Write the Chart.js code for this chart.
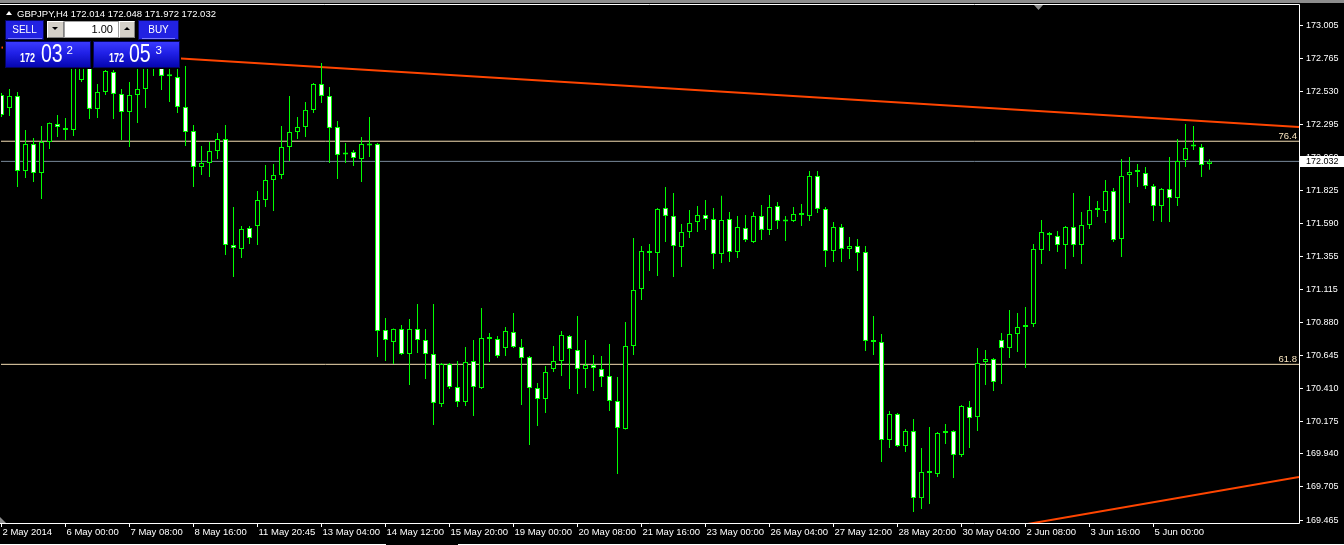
<!DOCTYPE html>
<html>
<head>
<meta charset="utf-8">
<script src="https://cdn.jsdelivr.net/npm/chart.js@4.4.1/dist/chart.umd.min.js"></script>
<style>
html,body{margin:0;padding:0;background:#000;overflow:hidden;}
#wrap{position:relative;width:1344px;height:545px;background:#000;}
#c{position:absolute;left:0;top:0;}
.ov{position:absolute;font-family:'Liberation Sans',Arial,sans-serif;white-space:nowrap;line-height:1;}
.topband{position:absolute;left:0;top:0;width:1344px;height:3px;background:#8c8c8c;}
.title{left:17px;top:8px;font-size:9.5px;color:#fff;line-height:11px;}
.tri-up{position:absolute;width:0;height:0;border-left:3px solid transparent;border-right:3px solid transparent;border-bottom:4px solid #fff;}
.panelbg{position:absolute;left:3px;top:18px;width:178px;height:51px;background:#000;}
.btn{position:absolute;box-sizing:border-box;border:1px solid #06065e;background:#2222e2;color:#fff;font-family:'Liberation Sans',Arial,sans-serif;font-size:10px;text-align:center;line-height:17px;}
.uline{position:absolute;height:1px;background:#7a7aff;}
.pbox{position:absolute;box-sizing:border-box;border:1px solid #050560;background:linear-gradient(to bottom,#3a3aff 0%,#2020e6 45%,#0606b0 100%);}
.grey{position:absolute;box-sizing:border-box;background:#d4d0c8;border-top:1px solid #fff;border-left:1px solid #fff;border-right:1px solid #808080;border-bottom:1px solid #808080;}
.tri-dn-b{position:absolute;width:0;height:0;border-left:3px solid transparent;border-right:3px solid transparent;border-top:3px solid #000;}
.tri-up-b{position:absolute;width:0;height:0;border-left:3px solid transparent;border-right:3px solid transparent;border-bottom:3px solid #000;}
.lot{position:absolute;box-sizing:border-box;background:#fff;border:1px solid #a0a0a0;color:#000;font-family:'Liberation Sans',Arial,sans-serif;font-size:11px;text-align:right;padding-right:5px;line-height:15px;}
.small{font-size:12px;font-weight:bold;color:#fff;transform:scaleX(0.75);transform-origin:left top;}
.big{font-size:25px;color:#fff;transform:scaleX(0.78);transform-origin:left top;}
.sup{font-size:11.5px;color:#fff;}
.tabline{position:absolute;top:544px;height:1px;background:#ffffff;}
</style>
</head>
<body>
<div id="wrap">
<canvas id="c" width="1344" height="545"></canvas>
<div class="topband"></div>
<div class="tri-up" style="left:6px;top:11px;"></div>
<div class="ov title">GBPJPY,H4 172.014 172.048 171.972 172.032</div>

<div class="panelbg"></div>
<div class="btn" style="left:5px;top:20px;width:39px;height:20px;">SELL</div>
<div class="uline" style="left:8px;top:38px;width:34px;"></div>
<div class="grey" style="left:47px;top:21px;width:17px;height:17px;"></div>
<div class="tri-dn-b" style="left:52px;top:27px;"></div>
<div class="lot" style="left:64px;top:21px;width:55px;height:17px;">1.00</div>
<div class="grey" style="left:119px;top:21px;width:16px;height:17px;"></div>
<div class="tri-up-b" style="left:124px;top:27px;"></div>
<div class="btn" style="left:138px;top:20px;width:41px;height:20px;">BUY</div>
<div class="uline" style="left:142px;top:38px;width:33px;"></div>

<div class="pbox" style="left:5px;top:41px;width:86px;height:27px;"></div>
<div class="pbox" style="left:93px;top:41px;width:87px;height:27px;"></div>
<div class="ov small" style="left:20px;top:52px;">172</div>
<div class="ov big" style="left:40.5px;top:41px;">03</div>
<div class="ov sup" style="left:66.5px;top:44.5px;">2</div>
<div class="ov small" style="left:109px;top:52px;">172</div>
<div class="ov big" style="left:129px;top:41px;">05</div>
<div class="ov sup" style="left:155.5px;top:44.5px;">3</div>

<div class="tabline" style="left:0;width:386px;"></div>
<div class="tabline" style="left:458px;width:886px;"></div>
</div>

<script>
// ---------------- DATA ----------------
const opens = [
172.507,172.414,172.500,171.963,172.156,171.949,172.171,172.299,172.271,172.257,
172.614,172.814,172.407,172.528,172.671,172.514,172.385,172.507,172.550,172.814,
172.793,172.643,172.635,172.421,172.249,171.992,172.021,172.106,172.192,171.434,
171.406,171.556,171.570,171.756,171.899,171.935,172.135,172.242,172.278,172.400,
172.585,172.500,172.278,172.085,172.099,172.049,172.149,172.156,170.827,170.741,
170.834,170.655,170.834,170.755,170.655,170.297,170.583,170.419,170.312,170.605,
170.412,170.762,170.762,170.698,170.812,170.705,170.633,170.412,170.333,170.548,
170.605,170.784,170.684,170.548,170.576,170.548,170.498,170.319,170.119,170.712,
171.120,171.377,171.377,171.699,171.642,171.420,171.527,171.599,171.649,171.620,
171.370,171.620,171.384,171.556,171.456,171.642,171.542,171.713,171.606,171.606,
171.649,171.642,171.928,171.692,171.391,171.563,171.406,171.427,171.384,170.755,
170.741,170.040,170.226,169.997,170.104,169.625,169.804,169.797,170.090,170.104,
169.933,170.276,170.204,170.598,170.619,170.755,170.698,170.798,170.848,170.869,
171.399,171.520,171.499,171.434,171.563,171.434,171.577,171.685,171.677,171.820,
171.477,171.935,171.956,171.949,171.856,171.713,171.835,171.770,172.042,172.142,
172.135,172.014];
const highs = [
172.521,172.550,172.528,172.257,172.199,172.285,172.310,172.364,172.342,172.793,
172.900,172.864,172.585,172.685,172.685,172.550,172.600,172.757,172.829,172.864,
172.829,172.743,172.721,172.714,172.292,172.142,172.171,172.235,172.292,171.706,
171.570,171.570,171.820,172.006,172.013,172.285,172.500,172.349,172.457,172.593,
172.736,172.564,172.321,172.164,172.114,172.206,172.349,172.164,170.912,170.837,
170.862,170.905,171.012,170.834,171.012,170.590,170.590,170.605,170.705,170.755,
170.984,170.805,170.784,170.848,170.948,170.762,170.641,170.448,170.569,170.712,
170.819,170.791,170.927,170.755,170.648,170.641,170.726,170.490,170.884,171.484,
171.427,171.442,171.699,171.849,171.806,171.584,171.685,171.713,171.756,171.699,
171.786,171.670,171.642,171.649,171.670,171.720,171.792,171.742,171.642,171.706,
171.727,171.963,171.963,171.706,171.599,171.584,171.491,171.477,171.427,170.927,
170.798,170.247,170.233,170.119,170.190,169.983,170.133,170.097,170.154,170.110,
170.290,170.319,170.698,170.684,170.626,170.805,170.970,170.948,170.991,171.442,
171.613,171.527,171.534,171.570,171.806,171.670,171.785,171.749,171.899,171.842,
172.049,172.063,172.013,171.992,171.870,171.842,172.063,172.192,172.299,172.285,
172.156,172.048];
const lows = [
172.349,172.357,171.849,171.913,171.885,171.763,172.121,172.206,172.185,172.214,
172.600,172.335,172.342,172.507,172.335,172.185,172.135,172.307,172.414,172.643,
172.543,172.457,172.378,172.142,171.849,171.935,171.920,172.049,171.363,171.205,
171.341,171.442,171.434,171.706,171.677,171.906,172.035,172.192,172.206,172.378,
172.450,172.021,171.906,172.021,171.999,171.885,172.063,170.633,170.605,170.583,
170.648,170.433,170.662,170.476,170.147,170.276,170.405,170.276,170.283,170.212,
170.405,170.598,170.626,170.641,170.698,170.290,170.004,170.140,170.233,170.526,
170.498,170.405,170.369,170.412,170.390,170.419,170.247,169.797,170.115,170.648,
171.041,171.248,171.213,171.456,171.205,171.277,171.484,171.527,171.542,171.263,
171.306,171.313,171.341,171.456,171.449,171.470,171.506,171.549,171.463,171.599,
171.570,171.606,171.663,171.277,171.313,171.313,171.334,171.248,170.676,170.648,
169.883,169.983,169.990,169.954,169.525,169.547,169.582,169.775,170.011,169.768,
169.918,169.983,170.104,170.433,170.390,170.440,170.626,170.669,170.555,170.848,
171.298,171.391,171.384,171.263,171.348,171.298,171.549,171.634,171.592,171.456,
171.348,171.735,171.849,171.835,171.606,171.599,171.599,171.713,171.992,172.114,
171.920,171.972];
const closes = [
172.364,172.500,171.963,172.156,171.949,172.171,172.307,172.278,172.257,172.721,
172.829,172.407,172.528,172.678,172.514,172.385,172.507,172.550,172.757,172.728,
172.643,172.640,172.421,172.242,171.992,172.021,172.106,172.192,171.434,171.413,
171.549,171.484,171.756,171.899,171.935,172.135,172.242,172.278,172.400,172.585,
172.500,172.271,172.078,172.082,172.056,172.156,172.146,170.819,170.755,170.834,
170.655,170.834,170.755,170.655,170.305,170.583,170.419,170.312,170.598,170.419,
170.769,170.766,170.641,170.819,170.705,170.626,170.412,170.333,170.526,170.605,
170.791,170.691,170.548,170.576,170.555,170.490,170.319,170.126,170.712,171.113,
171.391,171.384,171.692,171.642,171.427,171.527,171.592,171.649,171.620,171.370,
171.613,171.384,171.563,171.470,171.642,171.542,171.706,171.606,171.603,171.656,
171.652,171.928,171.692,171.391,171.563,171.406,171.427,171.377,170.748,170.741,
170.040,170.226,169.997,170.104,169.625,169.811,169.807,170.090,170.104,169.933,
170.283,170.197,170.591,170.619,170.455,170.698,170.798,170.848,170.862,171.406,
171.527,171.506,171.434,171.563,171.434,171.577,171.685,171.688,171.820,171.470,
171.928,171.956,171.959,171.856,171.713,171.835,171.770,172.035,172.128,172.139,
172.006,172.032];

const xTickBars = [0,8,16,24,32,40,48,56,64,72,80,88,96,104,112,120,128,136,144];
const xTickLabels = ['2 May 2014','6 May 00:00','7 May 08:00','8 May 16:00','11 May 20:45','13 May 04:00','14 May 12:00','15 May 20:00','19 May 00:00','20 May 08:00','21 May 16:00','23 May 00:00','26 May 04:00','27 May 12:00','28 May 20:00','30 May 04:00','2 Jun 08:00','3 Jun 16:00','5 Jun 00:00'];
const yTickValues = [173.005,172.765,172.530,172.295,172.060,171.825,171.590,171.355,171.115,170.880,170.645,170.410,170.175,169.940,169.705,169.465];
const yTickLabels = ['173.005','172.765','172.530','172.295','172.060','171.825','171.590','171.355','171.115','170.880','170.645','170.410','170.175','169.940','169.705','169.465'];

const trendTopBars = [0, 162.1875];
const trendTopPrices = [172.846, 172.278];
const trendLowBars = [125, 162.1875];
const trendLowPrices = [169.407, 169.775];
const fibLevels = [172.176, 170.581];
const fibLabels = ['76.4', '61.8'];
const currentPrice = 172.032;
const currentPriceLabel = '172.032';

const X_MIN = -0.0625, X_MAX = 162.1875;
const Y_MIN = 169.4466, Y_MAX = 173.150;

// ---------------- CHART ----------------
Chart.defaults.font.family = "'Liberation Sans', Arial, sans-serif";
const idx = opens.map((_, i) => i);
const GREEN = '#00ff00';

const decor = {
  id: 'decor',
  beforeDraw(chart) {
    const c = chart.ctx; c.save(); c.fillStyle = '#000'; c.fillRect(0, 0, chart.width, chart.height); c.restore();
  },
  afterDatasetsDraw(chart) {
    const c = chart.ctx, ys = chart.scales.y, area = chart.chartArea;
    c.save();
    c.font = "9.5px 'Liberation Sans', Arial, sans-serif";
    c.fillStyle = '#fae6c0';
    c.textAlign = 'right';
    c.textBaseline = 'alphabetic';
    fibLevels.forEach((lv, i) => {
      c.fillText(fibLabels[i], area.right - 2, ys.getPixelForValue(lv) - 2);
    });
    c.restore();
  },
  afterDraw(chart) {
    const c = chart.ctx, ys = chart.scales.y, area = chart.chartArea;
    c.save();
    c.strokeStyle = '#ffffff'; c.lineWidth = 1;
    c.beginPath();
    c.moveTo(0, area.top - 0.5); c.lineTo(area.right + 0.5, area.top - 0.5);
    c.lineTo(area.right + 0.5, area.bottom + 0.5); c.lineTo(0, area.bottom + 0.5);
    c.stroke();
    c.fillStyle = '#8c8c8c';
    c.beginPath(); c.moveTo(1034, area.top); c.lineTo(1043, area.top); c.lineTo(1038.5, area.top + 5); c.closePath(); c.fill();
    c.beginPath(); c.moveTo(0, area.bottom - 6); c.lineTo(0, area.bottom); c.lineTo(6, area.bottom); c.closePath(); c.fill();
    const py = Math.round(ys.getPixelForValue(currentPrice));
    c.fillStyle = '#ffffff';
    c.fillRect(area.right + 1, py - 5, 44, 11);
    c.fillStyle = '#000000';
    c.font = "9px 'Liberation Sans', Arial, sans-serif";
    c.textAlign = 'left'; c.textBaseline = 'middle';
    c.fillText(currentPriceLabel, area.right + 7, py + 0.5);
    c.restore();
  }
};

new Chart(document.getElementById('c').getContext('2d'), {
  type: 'bar',
  data: {
    datasets: [
      {
        label: 'body',
        data: idx.map(i => ({ x: i, y: [opens[i], closes[i]] })),
        backgroundColor: idx.map(i => closes[i] < opens[i] ? '#ffffff' : '#000000'),
        borderColor: GREEN, borderWidth: 1, borderSkipped: false,
        barThickness: 5, minBarLength: 2, grouped: false, inflateAmount: 0, order: 0
      },
      {
        label: 'wick',
        data: idx.map(i => ({ x: i, y: [lows[i], highs[i]] })),
        backgroundColor: GREEN, borderWidth: 0,
        barThickness: 1, grouped: false, inflateAmount: 0, order: 1
      },
      {
        type: 'line', label: 'trendTop',
        data: trendTopBars.map((b, i) => ({ x: b, y: trendTopPrices[i] })),
        borderColor: '#ff4500', borderWidth: 2, pointRadius: 0, tension: 0, order: 2
      },
      {
        type: 'line', label: 'trendLow',
        data: trendLowBars.map((b, i) => ({ x: b, y: trendLowPrices[i] })),
        borderColor: '#ff4500', borderWidth: 2, pointRadius: 0, tension: 0, order: 2
      },
      {
        type: 'line', label: 'fib764',
        data: [{ x: X_MIN, y: fibLevels[0] }, { x: X_MAX, y: fibLevels[0] }],
        borderColor: '#f5deb3', borderWidth: 1, pointRadius: 0, order: 3
      },
      {
        type: 'line', label: 'fib618',
        data: [{ x: X_MIN, y: fibLevels[1] }, { x: X_MAX, y: fibLevels[1] }],
        borderColor: '#f5deb3', borderWidth: 1, pointRadius: 0, order: 3
      },
      {
        type: 'line', label: 'bid',
        data: [{ x: X_MIN, y: currentPrice }, { x: X_MAX, y: currentPrice }],
        borderColor: '#778899', borderWidth: 1, pointRadius: 0, order: 4
      }
    ]
  },
  options: {
    responsive: false, animation: false, devicePixelRatio: 1,
    layout: { padding: { left: 1, top: 5, right: 0, bottom: 0 } },
    plugins: { legend: { display: false }, tooltip: { enabled: false }, title: { display: false } },
    scales: {
      x: {
        type: 'linear', min: X_MIN, max: X_MAX, offset: false,
        grid: { display: true, drawOnChartArea: false, drawTicks: true, tickLength: 4, color: '#ffffff', offset: false },
        border: { display: false },
        ticks: {
          color: '#ffffff', font: { size: 9.5 }, align: 'start', labelOffset: 1, padding: 0,
          maxRotation: 0, minRotation: 0, autoSkip: false,
          callback: (v, i) => xTickLabels[i]
        },
        afterBuildTicks: s => { s.ticks = xTickBars.map(v => ({ value: v })); },
        afterFit: s => { s.height = 22; s.paddingLeft = 0; s.paddingRight = 0; }
      },
      y: {
        type: 'linear', position: 'right', min: Y_MIN, max: Y_MAX,
        grid: { display: true, drawOnChartArea: false, drawTicks: true, tickLength: 4, color: '#ffffff' },
        border: { display: false },
        ticks: {
          color: '#ffffff', font: { size: 9 }, padding: 3, autoSkip: false,
          callback: (v, i) => yTickLabels[i]
        },
        afterBuildTicks: s => { s.ticks = yTickValues.map(v => ({ value: v })); },
        afterFit: s => { s.width = 45; s.paddingTop = 0; s.paddingBottom = 0; }
      }
    }
  },
  plugins: [decor]
});
</script>
</body>
</html>
